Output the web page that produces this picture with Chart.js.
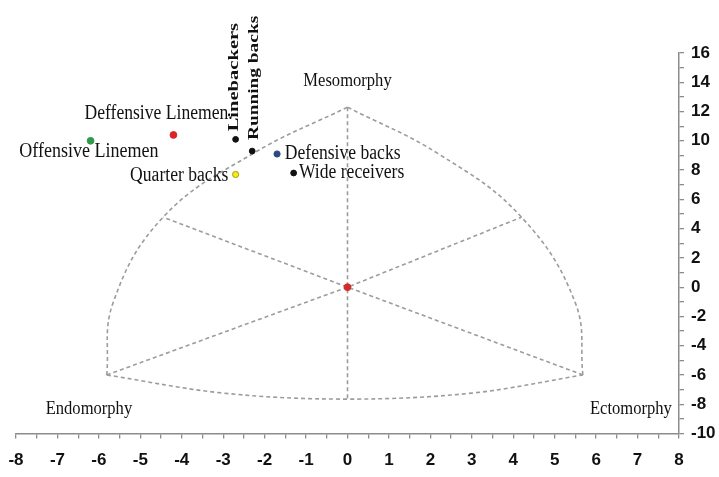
<!DOCTYPE html>
<html><head><meta charset="utf-8">
<script src="https://cdn.jsdelivr.net/npm/chart.js@4.4.0/dist/chart.umd.min.js"></script>
<style>html,body{margin:0;padding:0;background:#fff;overflow:hidden}#wrap{width:719px;height:477px;position:relative}</style>
</head><body><div id="wrap"><canvas id="c" width="719" height="477"></canvas></div>
<script>
// ---- data ----
const groups = ['Offensive Linemen','Deffensive Linemen.','Linebackers','Running backs','Defensive backs','Quarter backs','Wide receivers'];
const groupX = [-6.2, -4.2, -2.7, -2.3, -1.7, -2.7, -1.3];
const groupY = [10.0, 10.4, 10.1, 9.3, 9.1, 7.7, 7.8];
const centerX = [0];
const centerY = [0];

// somatochart frame
const leftArcX  = [0, -2.3, -4.45, -5.66, -5.81];
const leftArcY  = [12.3, 9.1, 4.78, -1.09, -6.0];
const rightArcX = [0, 2.2, 4.2, 5.5, 5.68];
const rightArcY = [12.3, 9.1, 4.78, -1.09, -6.0];
const bottomArcX = [-5.81, -3.0, 0, 3.0, 5.68];
const bottomArcY = [-6.0, -7.24, -7.65, -7.24, -6.0];
const lineAX = [-5.81, 0, 4.2];
const lineAY = [-6.0, 0, 4.78];
const lineBX = [5.68, 0, -4.45];
const lineBY = [-6.0, 0, 4.78];
const vertX = [0, 0];
const vertY = [12.3, -7.65];

const somatotypes = ['Mesomorphy', 'Endomorphy', 'Ectomorphy'];
const somatotypeX = [0, -6.24, 6.84];
const somatotypeY = [14.1, -8.33, -8.33];

const xMin = -8, xMax = 8;
const yMin = -10, yMax = 16;

// ---- styles ----
const groupColors = ['#2e9a4e', '#d9252a', '#111111', '#111111', '#2b4a7e', '#f5ea1a', '#111111'];
const groupBorders = ['#2e9a4e', '#d9252a', '#111111', '#111111', '#2b4a7e', '#a89a10', '#111111'];
const groupRadius = [3.4, 3.4, 2.9, 2.9, 3.1, 3.1, 2.9];

const SERIF = '"Liberation Serif", "DejaVu Serif", serif';
const labelStyles = [
  {dx:-71.3, dy:11,   align:'left',  font:'20px '+SERIF, sx:0.9},
  {dx:-89,   dy:-21.3,align:'left',  font:'20px '+SERIF, sx:0.88},
  {dx:2.7,   dy:-8,   align:'left',  font:'bold 15px '+SERIF, sx:1.37, rot:true},
  {dx:6,     dy:-11,  align:'left',  font:'bold 15px '+SERIF, sx:1.29, rot:true},
  {dx:7.7,   dy:0,    align:'left',  font:'20px '+SERIF, sx:0.88},
  {dx:-7.3,  dy:1,    align:'right', font:'20px '+SERIF, sx:0.88},
  {dx:5.3,   dy:0,    align:'left',  font:'20px '+SERIF, sx:0.88}
];

const pts = (xs, ys) => xs.map((v, i) => ({x: v, y: ys[i]}));
const frameStyle = (tension) => ({
  showLine: true, borderColor: '#9c9c9c', borderWidth: 1.6, borderDash: [4, 3],
  pointRadius: 0, tension: tension, order: 2, fill: false
});

const labelPlugin = {
  id: 'labels',
  afterDatasetsDraw(chart) {
    const {ctx, scales: {x, y}} = chart;
    ctx.save();
    ctx.fillStyle = '#111';
    groups.forEach((t, i) => {
      const s = labelStyles[i];
      const px = x.getPixelForValue(groupX[i]) + s.dx;
      const py = y.getPixelForValue(groupY[i]) + s.dy;
      ctx.save();
      ctx.translate(px, py);
      ctx.font = s.font;
      if (s.rot) {
        ctx.rotate(-Math.PI / 2);
        ctx.scale(s.sx, 1);
        ctx.textAlign = 'left';
        ctx.textBaseline = 'alphabetic';
      } else {
        ctx.scale(s.sx, 1);
        ctx.textAlign = s.align;
        ctx.textBaseline = 'middle';
      }
      ctx.fillText(t, 0, 0);
      ctx.restore();
    });
    somatotypes.forEach((t, i) => {
      ctx.save();
      ctx.translate(x.getPixelForValue(somatotypeX[i]), y.getPixelForValue(somatotypeY[i]));
      ctx.scale(0.92, 1);
      ctx.font = '18px ' + SERIF;
      ctx.textAlign = 'center';
      ctx.textBaseline = 'middle';
      ctx.fillText(t, 0, 0);
      ctx.restore();
    });
    ctx.restore();
  }
};

const tickFont = {family: '"Liberation Sans", Arial, sans-serif', size: 17, weight: 'bold'};
const axisGray = '#8c8c8c';

new Chart(document.getElementById('c'), {
  type: 'scatter',
  data: {
    datasets: [
      {data: pts(groupX, groupY), backgroundColor: groupColors, borderColor: groupBorders, borderWidth: 1,
       pointRadius: groupRadius, order: 0},
      {data: pts(centerX, centerY), backgroundColor: '#d42a2a', borderColor: '#d42a2a', pointRadius: 3.4, order: 0},
      Object.assign({data: pts(leftArcX, leftArcY)}, frameStyle(0.4)),
      Object.assign({data: pts(rightArcX, rightArcY)}, frameStyle(0.4)),
      Object.assign({data: pts(bottomArcX, bottomArcY)}, frameStyle(0.35)),
      Object.assign({data: pts(lineAX, lineAY)}, frameStyle(0)),
      Object.assign({data: pts(lineBX, lineBY)}, frameStyle(0)),
      Object.assign({data: pts(vertX, vertY)}, frameStyle(0))
    ]
  },
  options: {
    responsive: false,
    animation: false,
    events: [],
    layout: {padding: {left: 16, top: 53, right: 0, bottom: 0}},
    plugins: {legend: {display: false}, tooltip: {enabled: false}},
    scales: {
      x: {
        type: 'linear', position: 'bottom', min: xMin, max: xMax,
        grid: {drawOnChartArea: false, drawTicks: true, tickLength: 5, color: axisGray, lineWidth: 1.3},
        border: {color: axisGray, width: 1.5},
        ticks: {stepSize: 0.5, autoSkip: false, maxRotation: 0, padding: 12, color: '#111', font: tickFont,
          callback: (v) => Number.isInteger(v) ? String(v) : ''},
        afterFit: (s) => { s.height = 43.5; s.paddingLeft = 0; s.paddingRight = 0; }
      },
      y: {
        type: 'linear', position: 'right', min: yMin, max: yMax,
        grid: {drawOnChartArea: false, drawTicks: true, tickLength: 5, color: axisGray, lineWidth: 1.3},
        border: {color: axisGray, width: 1.5},
        ticks: {stepSize: 1, autoSkip: false, padding: 7, color: '#111', font: tickFont,
          callback: (v) => (v % 2 === 0) ? String(v) : ''},
        afterFit: (s) => { s.width = 40; s.paddingTop = 0; s.paddingBottom = 0; }
      }
    }
  },
  plugins: [labelPlugin]
});
</script>
</body></html>
